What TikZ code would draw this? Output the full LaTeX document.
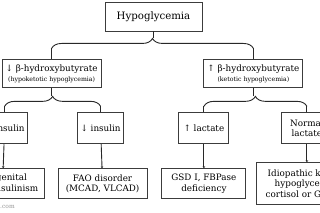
\documentclass[tikz,border=0pt]{standalone}
\usepackage{fontspec}
\setmainfont{DejaVu Serif}
\usepackage{tikz}
\usetikzlibrary{arrows.meta, positioning, calc, decorations.pathreplacing}
\definecolor{mydark}{RGB}{40,40,40}
\definecolor{myedge}{RGB}{60,60,60}
\definecolor{mygray}{RGB}{150,150,150}
\tikzset{
  box/.style={rectangle, draw=myedge, fill=white, align=center,
    inner sep=1pt, line width=0.9pt, font=\fontsize{8.8}{10.2}\selectfont},
  bigbox/.style={box, minimum width=97pt, minimum height=29pt,
    font=\fontsize{10.2}{12}\selectfont},
  midbox/.style={box, minimum width=99pt, minimum height=28pt},
  smallbox/.style={box, minimum width=46pt, minimum height=31pt},
  leafbox/.style={box, minimum height=30pt},
  brace/.style={decorate, decoration={brace, amplitude=10pt}, line width=0.9pt, color=mydark},
  line/.style={line width=0.9pt, color=mydark},
  arrow/.style={-{Stealth[length=2pt, width=2.5pt]}, line width=0.9pt, color=mydark}
}

\begin{document}
\begin{tikzpicture}[x=1pt, y=-1pt]
  \useasboundingbox (0,0) rectangle (320,213);
  \clip (0,0) rectangle (320,213);
  \fill[white] (0,0) rectangle (320,213);

  \node[bigbox] (root) at (153.5,16.5) {Hypoglycemia};
  \node[midbox, below left=28pt and 3pt of root] (lb)
    {↓ β-hydroxybutyrate\\[-1pt]{\fontsize{6.2}{7}\selectfont(hypoketotic hypoglycemia)}};
  \node[midbox, below right=28pt and 1pt of root] (rb)
    {↑ β-hydroxybutyrate\\[-1pt]{\fontsize{6.2}{7}\selectfont(ketotic hypoglycemia)}};

  \node[smallbox, below=24pt of lb, xshift=-47pt] (up) {↑ insulin};
  \node[smallbox, below=24pt of lb, xshift=49pt] (dn) {↓ insulin};
  \node[smallbox, below=24pt of rb, xshift=-49.5pt, minimum width=50pt] (lac) {↑ lactate};
  \node[smallbox, below=24pt of rb, xshift=53.5pt, minimum width=50pt] (nor) {Normal\\lactate};

  \node[leafbox, below=24pt of up, xshift=-2pt, minimum width=84pt] (chi) {Congenital\\hyperinsulinism};
  \node[leafbox, below=24pt of dn, xshift=2pt, minimum width=89pt] (fao) {FAO disorder\\(MCAD, VLCAD)};
  \node[leafbox, below=24pt of lac, minimum width=84pt] (gsd) {GSD I, FBPase\\deficiency};
  \node[box, below=18pt of nor, minimum width=100pt, minimum height=42pt] (idk)
    {Idiopathic ketotic\\hypoglycemia,\\cortisol or GH def.};

  \node[anchor=west, inner sep=0pt, text=mygray, font=\fontsize{6}{7}\selectfont] (wm) at (0,207) {.com};

  % first split
  \draw[line] (root.south) -- ++(0,7);
  \draw[brace] ($(lb.north)+(0,-11)$) -- ($(rb.north)+(0,-11)$);
  \draw[line] (lb.north) -- ++(0,-11);
  \draw[line] (rb.north) -- ++(0,-11);

  % left split
  \draw[line] (lb.south) -- ++(0,8);
  \draw[brace] ($(up.north)+(0,-6)$) -- ($(dn.north)+(0,-6)$);
  \draw[line] (up.north) -- ++(0,-6);
  \draw[line] (dn.north) -- ++(0,-6);

  % right split
  \draw[line] (rb.south) -- ++(0,8);
  \draw[brace] ($(lac.north)+(0,-6)$) -- ($(nor.north)+(0,-6)$);
  \draw[line] (lac.north) -- ++(0,-6);
  \draw[line] (nor.north) -- ++(0,-6);

  \draw[arrow] (up) -- (chi);
  \draw[arrow] (dn) -- (fao);
  \draw[arrow] (lac) -- (gsd);
  \draw[arrow] (nor) -- (idk);
\end{tikzpicture}
\end{document}
